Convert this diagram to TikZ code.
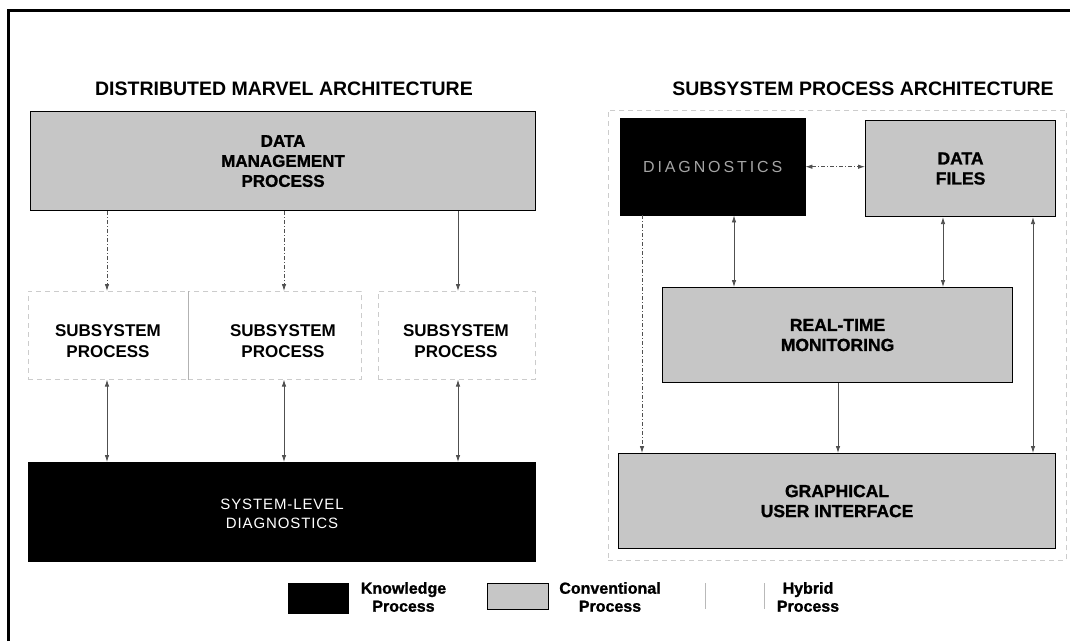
\documentclass[tikz,border=0pt]{standalone}
\usepackage{fontspec}
\setmainfont{Liberation Sans}
\newfontfamily\spacedfont[LetterSpace=6]{Liberation Sans}
\newfontfamily\widefont[LetterSpace=18]{Liberation Sans}
\newfontfamily\heavyfont[FakeBold=1.2]{Liberation Sans Bold}
\usetikzlibrary{arrows.meta}
\definecolor{convgray}{RGB}{198,198,198}
\definecolor{conncol}{RGB}{80,80,80}
\definecolor{diaggray}{RGB}{165,165,165}
\begin{document}
\begin{tikzpicture}[x=1pt,y=-1pt,
  >={Latex[length=7pt,width=4.5pt]},
  pbox/.style={rectangle, inner sep=0pt, anchor=north west},
  conv/.style={pbox, draw=black, line width=1.1pt, fill=convgray, align=center,
    font=\heavyfont\fontsize{17.5}{20}\selectfont},
  know/.style={pbox, fill=black, draw=black},
  hyb/.style={pbox, draw=gray!40, line width=0.6pt, dash pattern=on 5pt off 4pt},
  conn/.style={draw=conncol, line width=0.8pt},
  dashconn/.style={conn, dash pattern=on 4pt off 2pt on 1pt off 2pt},
  ttl/.style={font=\fontsize{19.5}{22}\selectfont\bfseries, inner sep=0pt},
  sstext/.style={font=\fontsize{17}{21}\selectfont\bfseries, align=center, inner sep=0pt},
  lgd/.style={font=\heavyfont\fontsize{16}{18}\selectfont, align=center, inner sep=0pt}
]
\useasboundingbox (0,0) rectangle (1070,641);
\fill[white] (0,0) rectangle (1070,641);
\draw[line width=3pt] (8,641) -- (8,10.5) -- (1070,10.5);

% titles
\node[ttl] (t1) at (284,89) {DISTRIBUTED MARVEL ARCHITECTURE};
\node[ttl] (t2) at (863,89) {SUBSYSTEM PROCESS ARCHITECTURE};

% ---------- left: distributed architecture
\node[conv, minimum width=505pt, minimum height=99pt,
  font=\heavyfont\fontsize{17}{20}\selectfont] (dm) at (30,111) {DATA\\MANAGEMENT\\PROCESS};

\node[hyb, minimum width=160.5pt, minimum height=88pt] (ss1) at (27.5,291) {};
\node[hyb, minimum width=173pt, minimum height=88pt] (ss2) at (188,291) {};
\node[hyb, minimum width=157pt, minimum height=88pt] (ss3) at (378,291) {};
\draw[gray!60, line width=0.8pt] (ss1.north east) -- (ss1.south east);
\node[sstext] (ss1t) at (108,341.5) {SUBSYSTEM\\PROCESS};
\node[sstext] (ss2t) at (283,341.5) {SUBSYSTEM\\PROCESS};
\node[sstext] (ss3t) at (456,341.5) {SUBSYSTEM\\PROCESS};

\node[know, minimum width=507.5pt, minimum height=99pt] (sys) at (27.5,462) {};
\node[font=\spacedfont\fontsize{15}{19}\selectfont, text=white, align=center, inner sep=0pt]
  (syst) at (282,513.5) {SYSTEM-LEVEL\\DIAGNOSTICS};

\coordinate (c1) at (107,0);
\coordinate (c2) at (284,0);
\coordinate (c3) at (458,0);
\draw[dashconn,->] (dm.south -| c1) -- (ss1.north -| c1);
\draw[dashconn,->] (dm.south -| c2) -- (ss2.north -| c2);
\draw[conn,->] (dm.south -| c3) -- (ss3.north -| c3);
\draw[conn,<->] (ss1.south -| c1) -- (sys.north -| c1);
\draw[conn,<->] (ss2.south -| c2) -- (sys.north -| c2);
\draw[conn,<->] (ss3.south -| c3) -- (sys.north -| c3);

% ---------- right: subsystem process architecture
\node[hyb, minimum width=458pt, minimum height=450pt] (frame) at (608,110) {};
\node[know, minimum width=185pt, minimum height=97pt, text=diaggray,
  font=\widefont\fontsize{16}{19}\selectfont] (diag) at (620,118) {DIAGNOSTICS};
\node[conv, minimum width=190pt, minimum height=96pt] (df) at (865,120) {DATA\\FILES};
\node[conv, minimum width=350pt, minimum height=95pt] (rtm) at (662,287) {REAL-TIME\\MONITORING};
\node[conv, minimum width=437pt, minimum height=95pt] (gui) at (618,453) {GRAPHICAL\\USER INTERFACE};

\coordinate (c4) at (642,0);
\coordinate (c5) at (734,0);
\coordinate (c6) at (838,0);
\coordinate (c7) at (943,0);
\coordinate (c8) at (1033,0);
\draw[dashconn,<->] (diag.east) -- (diag.east -| df.west);
\draw[conn,<->] (diag.south -| c5) -- (rtm.north -| c5);
\draw[conn,<->] (df.south -| c7) -- (rtm.north -| c7);
\draw[dashconn,->] (diag.south -| c4) -- (gui.north -| c4);
\draw[conn,->] (rtm.south -| c6) -- (gui.north -| c6);
\draw[conn,<->] (df.south -| c8) -- (gui.north -| c8);

% ---------- legend
\node[know, minimum width=60pt, minimum height=30pt] (lk) at (288,583) {};
\node[lgd] (lkt) at (403.5,597) {Knowledge\\Process};
\node[conv, line width=0.7pt, minimum width=61pt, minimum height=26pt] (lc) at (487,583) {};
\node[lgd] (lct) at (610,597) {Conventional\\Process};
\node[pbox, minimum width=59pt, minimum height=26pt] (lh) at (705,583) {};
\draw[gray!55, line width=0.8pt] (lh.north west) -- (lh.south west) (lh.north east) -- (lh.south east);
\node[lgd] (lht) at (808,597) {Hybrid\\Process};
\end{tikzpicture}
\end{document}
